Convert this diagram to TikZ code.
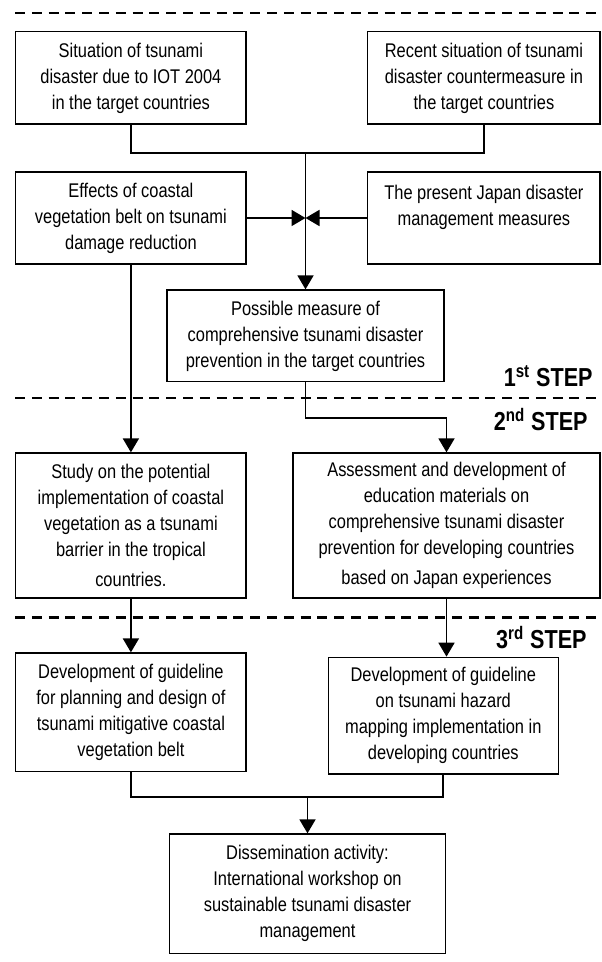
\documentclass[tikz,border=0pt]{standalone}
\usepackage{fontspec}
\setmainfont{Liberation Sans}[FakeStretch=0.83]
\usetikzlibrary{arrows.meta}

\begin{document}
\begin{tikzpicture}[x=0.5pt, y=-0.5pt,
    box/.style={draw, line width=0.65pt, align=center, inner sep=0pt,
      font=\fontsize{9.9}{13}\selectfont},
    link/.style={line width=0.9pt},
    arr/.style={line width=0.9pt, -{Triangle[width=8pt, length=7pt]}},
    stepline/.style={line width=1.3pt, dash pattern=on 5pt off 3.4pt},
    steplabel/.style={anchor=base east, inner sep=0pt,
      font=\fontsize{13}{15}\selectfont\bfseries}]
    \useasboundingbox (0,0) rectangle (601,962);

    \draw [stepline] (15,13) -- (601,13);
    \draw [stepline] (15,398) -- (601,398);
    \draw [stepline] (15,617.7) -- (601,617.7);
    \node [steplabel] (step1) at (593,386.7) {1\textsuperscript{st} STEP};
    \node [steplabel] (step2) at (588,430) {2\textsuperscript{nd} STEP};
    \node [steplabel] (step3) at (587,648) {3\textsuperscript{rd} STEP};

    \node [box, minimum width=115.2pt, minimum height=46.2pt] (sit) at (130.9,77.9)
      {Situation of tsunami\\disaster due to IOT 2004\\in the target countries};
    \node [box, minimum width=116.2pt, minimum height=46.2pt] (recent) at (483.9,77.9)
      {Recent situation of tsunami\\disaster countermeasure in\\the target countries};
    \node [box, minimum width=115.2pt, minimum height=46pt] (effects) at (130.9,218)
      {Effects of coastal\\vegetation belt on tsunami\\damage reduction};
    \node [box, minimum width=116.2pt, minimum height=46pt] (japan) at (483.9,218)
      {The present Japan disaster\\management measures\\\mbox{}};
    \node [box, minimum width=138.5pt, minimum height=45.9pt] (possible) at (305.5,335.9)
      {Possible measure of\\comprehensive tsunami disaster\\prevention in the target countries};
    \node [box, minimum width=115.2pt, minimum height=72.5pt] (study) at (130.9,525.5)
      {Study on the potential\\implementation of coastal\\vegetation as a tsunami\\barrier in the tropical\\[2pt]countries.};
    \node [box, minimum width=153.5pt, minimum height=72.5pt] (assess) at (446.5,525.5)
      {Assessment and development of\\education materials on\\comprehensive tsunami disaster\\prevention for developing countries\\[2pt]based on Japan experiences};
    \node [box, minimum width=115.2pt, minimum height=59.4pt] (guideA) at (130.9,712.4)
      {Development of guideline\\for planning and design of\\tsunami mitigative coastal\\vegetation belt};
    \node [box, minimum width=115pt, minimum height=58.4pt] (guideB) at (443.3,715.7)
      {Development of guideline\\on tsunami hazard\\mapping implementation in\\developing countries};
    \node [box, minimum width=138.2pt, minimum height=59.7pt] (dissem) at (307.5,893.7)
      {Dissemination activity:\\International workshop on\\sustainable tsunami disaster\\management};

    \coordinate (join1) at (305.5,152.7);
    \coordinate (join2) at (305.5,218);
    \coordinate (bend1) at (305.5,417.7);
    \coordinate (join3) at (307.5,796.7);

    \draw [link] (sit) |- (join1) -| (recent);
    \draw [arr] (join1) -- (possible);
    \draw [arr] (effects) -- (join2);
    \draw [arr] (japan) -- (join2);
    \draw [arr] (effects) -- (study);
    \draw [arr] (possible) -- (bend1) -| (assess);
    \draw [arr] (study) -- (guideA);
    \draw [arr] (assess.south) -- (assess.south |- guideB.north);
    \draw [link] (guideA) |- (join3) -| (guideB);
    \draw [arr] (join3) -- (dissem);
  \end{tikzpicture}
\end{document}
